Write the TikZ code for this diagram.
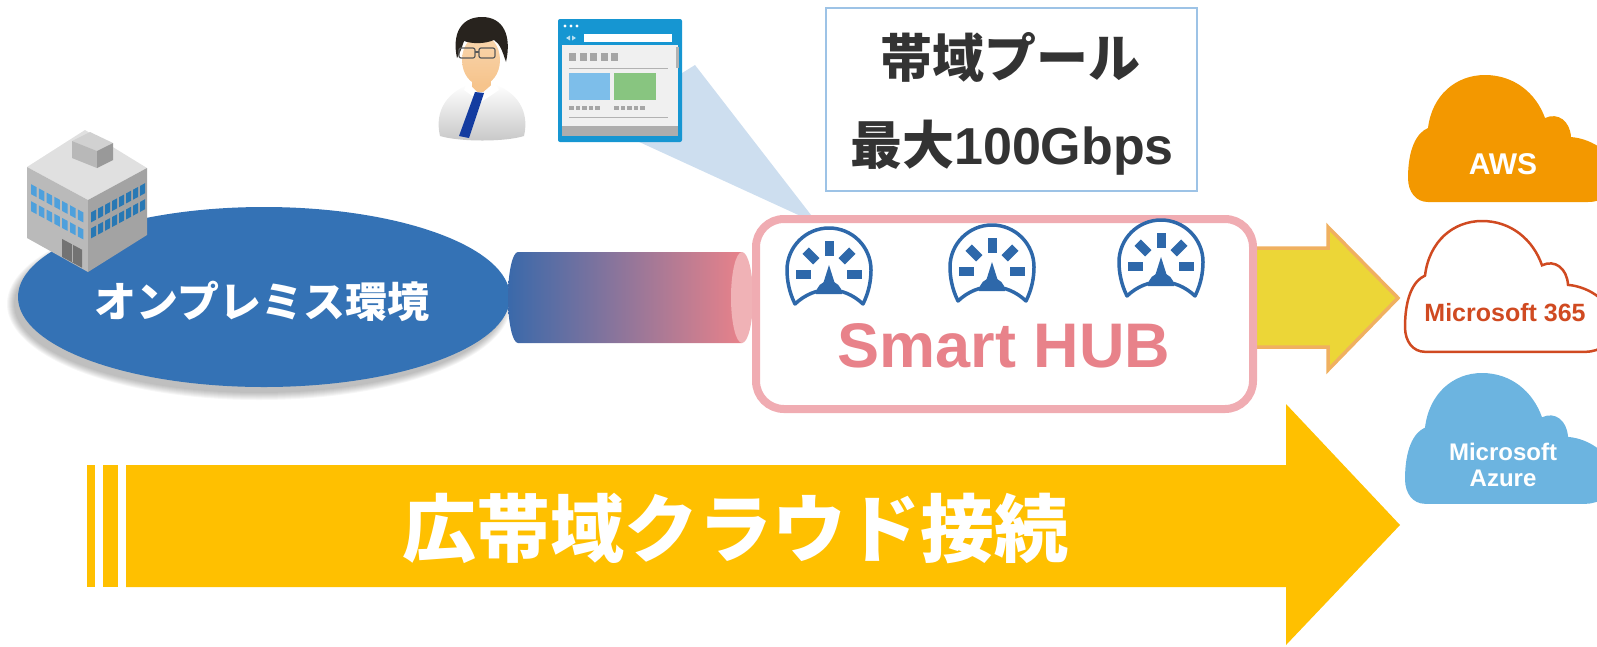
\documentclass[tikz,border=0pt]{standalone}
\usepackage{fontspec}
\setmainfont{Liberation Sans}
\newfontfamily\jpfont{Noto Sans CJK JP}
\usetikzlibrary{shapes.geometric,positioning}

\definecolor{premblue}{RGB}{52,114,181}
\definecolor{pipeblue}{RGB}{58,105,170}
\definecolor{pipepink}{RGB}{232,130,138}
\definecolor{pipecap}{RGB}{240,178,182}
\definecolor{hubpink}{RGB}{240,172,178}
\definecolor{hubtextpink}{RGB}{232,130,138}
\definecolor{gaugeblue}{RGB}{46,104,170}
\definecolor{arrowyellow}{RGB}{236,214,55}
\definecolor{arrowedge}{RGB}{240,176,96}
\definecolor{bandorange}{RGB}{255,192,0}
\definecolor{awsorange}{RGB}{243,152,0}
\definecolor{msred}{RGB}{208,74,33}
\definecolor{azureblue}{RGB}{108,180,224}
\definecolor{poolframe}{RGB}{157,195,230}
\definecolor{darktext}{RGB}{51,51,51}
\definecolor{callout}{RGB}{205,222,239}
\definecolor{browserblue}{RGB}{22,150,210}
\definecolor{pagegray}{RGB}{240,240,240}
\definecolor{pageblue}{RGB}{125,190,234}
\definecolor{pagegreen}{RGB}{136,197,128}
\definecolor{winlight}{RGB}{78,160,220}
\definecolor{windark}{RGB}{40,120,180}
\definecolor{skin}{RGB}{246,196,140}
\definecolor{hair}{RGB}{40,35,30}
\definecolor{tieblue}{RGB}{20,60,160}

\tikzset{
  % meter icon, drawn around its centre
  gauge/.pic={
    \fill[white] (-34,34) .. controls (-40,22) and (-42,10) .. (-42,0)
      arc[start angle=180, end angle=360, radius=42]
      .. controls (42,10) and (40,22) .. (34,34)
      .. controls (14,15) and (-14,15) .. cycle;
    \foreach \a in {0,45,...,180}
      \fill[gaugeblue, shift={(0,4)}, rotate=\a] (18,-4.5) rectangle (33,4.5);
    \fill[gaugeblue] (-6,14) -- (0,-5) -- (6,14) -- cycle;
    \fill[gaugeblue] (-13,24) arc[start angle=180, end angle=360, radius=13] -- cycle;
    \draw[gaugeblue, line width=3.5, line join=round] (-34,34) .. controls (-40,22) and (-42,10) .. (-42,0)
      arc[start angle=180, end angle=360, radius=42]
      .. controls (42,10) and (40,22) .. (34,34)
      .. controls (14,15) and (-14,15) .. cycle;
  },
  % cloud outline, top left corner at the origin
  skycloud/.pic={
    \path[pic actions] (20,127) .. controls (8,127) and (0,117) .. (0,103)
      .. controls (0,75) and (8,58) .. (20,53)
      .. controls (24,20) and (48,0) .. (77,0)
      .. controls (106,0) and (128,18) .. (137,43)
      .. controls (150,37) and (162,46) .. (163,62)
      .. controls (186,64) and (208,80) .. (208,100)
      .. controls (208,118) and (196,127) .. (180,127)
      -- cycle;
  }
}

\begin{document}
\begin{tikzpicture}[x=1pt,y=-1pt]
  \tikzstyle{premtext}=[text=white,inner sep=0pt,font=\jpfont\bfseries\fontsize{42}{46}\selectfont]
  \tikzstyle{bandtext}=[text=white,inner sep=0pt,font=\jpfont\bfseries\fontsize{74}{80}\selectfont]
  \tikzstyle{pooltext}=[text=darktext,inner sep=0pt,font=\bfseries\fontsize{52}{58}\selectfont]
  \tikzstyle{hubbox}=[rectangle,draw=hubpink,line width=8pt,fill=white,rounded corners=28pt,minimum width=497pt,minimum height=190pt]
  \tikzstyle{hubtext}=[text=hubtextpink,inner sep=0pt,font=\bfseries\fontsize{63}{70}\selectfont]
  \tikzstyle{cloudtext}=[text=white,inner sep=0pt,align=center,font=\bfseries\fontsize{24}{26}\selectfont]

  \useasboundingbox (0,0) rectangle (1597,646);
  \clip (0,0) rectangle (1597,646);

  % view cone from the browser down to the first meter
  \fill[callout] (695,65) -- (600,124) -- (818,224) -- cycle;

  % on-premises site
  \foreach \k in {1,...,8}
    \fill[black,opacity=0.035] (259,304) ellipse ({244+\k} and {88+\k});
  \node[ellipse,fill=premblue,minimum width=492pt,minimum height=180pt] (prem) at (264,297) {};
  \node[premtext] (premlabel) at (262,301) {オンプレミス環境};

  % office building
  \fill[black!12] (85,130) -- (27,167) -- (88,200) -- (147,168) -- cycle;
  \fill[black!27] (27,167) -- (88,200) -- (88,272) -- (27,238) -- cycle;
  \fill[black!36] (88,200) -- (147,168) -- (147,235) -- (88,272) -- cycle;
  \fill[black!18] (72,141) -- (90,132) -- (113,143) -- (97,151) -- cycle;
  \fill[black!28] (72,141) -- (97,151) -- (97,168) -- (72,158) -- cycle;
  \fill[black!40] (97,151) -- (113,143) -- (113,160) -- (97,168) -- cycle;
  \begin{scope}[shift={(27,167)},yslant=-0.54]
    \foreach \i in {0,...,6} {
      \fill[winlight] (4+\i*7.8,15) rectangle ++(5.5,10);
      \fill[winlight] (4+\i*7.8,32) rectangle ++(5.5,10);
    }
    \fill[black!55] (35,53) rectangle (55,71);
    \draw[black!30] (45,53) -- (45,71);
  \end{scope}
  \begin{scope}[shift={(88,200)},yslant=0.54]
    \foreach \i in {0,...,7} {
      \fill[windark] (3+\i*7,14) rectangle ++(5,10);
      \fill[windark] (3+\i*7,30) rectangle ++(5,10);
    }
  \end{scope}

  % pipe into the hub
  \shade[left color=pipeblue,right color=pipepink] (518,252) -- (742,252) -- (742,343) -- (518,343)
    arc[start angle=90, end angle=270, x radius=10, y radius=45.5] -- cycle;
  \fill[pipecap] (742,297.5) ellipse (11 and 45.5);

  % arrow out to the clouds
  \fill[arrowyellow,draw=arrowedge,line width=3.5pt,line join=miter]
    (1250,248) -- (1328,248) -- (1328,227) -- (1398,298) -- (1328,370) -- (1328,347) -- (1250,347) -- cycle;

  % hub with its meters
  \node[hubbox] (hub) at (1004.5,314) {};
  \pic (meter1) at (829,270) {gauge};
  \pic (meter2) at (992,267) {gauge};
  \pic (meter3) at (1161,262) {gauge};
  \node[hubtext] (hublabel) at (1004,346) {Smart HUB};

  % wide band arrow
  \fill[bandorange] (87,465) rectangle (95,587);
  \fill[bandorange] (103,465) rectangle (118,587);
  \fill[bandorange] (126,465) -- (1286,465) -- (1286,404) -- (1400,525) -- (1286,645) -- (1286,587) -- (126,587) -- cycle;
  \node[bandtext] (band) at (735,528) {広帯域クラウド接続};

  % clouds
  \pic[fill=awsorange] (awscloud) at (1408,75) {skycloud};
  \node[cloudtext,font=\bfseries\fontsize{30}{32}\selectfont] (aws) at (1503,164) {AWS};
  \pic[fill=white,draw=msred,line width=2.5pt,yscale=1.03] (mscloud) at (1405,221) {skycloud};
  \node[cloudtext,text=msred,font=\bfseries\fontsize{25}{28}\selectfont] (ms365) at (1505,313) {Microsoft 365};
  \pic[fill=azureblue,yscale=1.03] (azcloud) at (1405,373) {skycloud};
  \node[cloudtext] (azure) at (1503,465) {Microsoft\\Azure};

  % user
  \shade[top color=white,bottom color=black!22] (440,136) .. controls (434,110) and (448,92) .. (470,84)
    -- (494,84) .. controls (516,92) and (530,110) .. (524,136) .. controls (505,142) and (460,142) .. cycle;
  \fill[skin] (472,74) rectangle (491,92);
  \shade[top color=skin!70!white,bottom color=skin] (481,60) ellipse (19 and 25);
  \fill[hair] (457,58) .. controls (452,35) and (460,17) .. (482,17) .. controls (503,17) and (512,35) .. (506,62)
    .. controls (502,50) and (500,44) .. (494,40) .. controls (485,44) and (472,44) .. (464,41)
    .. controls (462,47) and (460,53) .. cycle;
  \draw[black!65,line width=1.2pt,rounded corners=2pt] (459,48) rectangle (475,58) (479,48) rectangle (495,58);
  \draw[black!65,line width=1.2pt] (475,52) -- (479,52);
  \fill[white] (467,82) -- (480,95) -- (495,82) -- (499,90) -- (481,102) -- (464,90) -- cycle;
  \fill[tieblue] (475,92) -- (484,93) -- (469,138) -- (459,136) -- cycle;

  % browser window
  \fill[browserblue,rounded corners=2pt] (558,19) rectangle (682,142);
  \foreach \i in {0,1,2}
    \fill[white] (565+\i*6,26) circle (1.6);
  \fill[white] (584,34) rectangle (672,42);
  \fill[white!70!browserblue] (566,38) -- (570,35.5) -- (570,40.5) -- cycle;
  \fill[white!70!browserblue] (576,38) -- (572,35.5) -- (572,40.5) -- cycle;
  \fill[pagegray] (562,45) rectangle (678,126);
  \fill[black!32] (562,126) rectangle (678,136);
  \foreach \i in {0,...,4}
    \fill[black!35] (569+\i*10.5,53) rectangle ++(7,8);
  \draw[black!30,line width=1pt] (569,68) -- (668,68);
  \fill[black!30] (676,47) rectangle (679,68);
  \fill[pageblue] (569,73) rectangle (610,100);
  \fill[pagegreen] (614,73) rectangle (656,100);
  \foreach \i in {0,...,4} {
    \fill[black!35] (569+\i*6.5,106) rectangle ++(4.5,4);
    \fill[black!35] (614+\i*6.5,106) rectangle ++(4.5,4);
  }
  \draw[black!30,line width=1pt] (569,117) -- (668,117);

  % bandwidth pool label
  \node[rectangle,draw=poolframe,line width=1.5pt,fill=white,minimum width=371pt,minimum height=183pt] (poolbox) at (1011.5,99.5) {};
  \node[pooltext] (pool) at (1010,57) {\jpfont\fontsize{52}{58}\selectfont 帯域プール};
  \node[pooltext] (maxbw) at (1012,148) {{\jpfont\fontsize{52}{58}\selectfont 最大}100Gbps};
\end{tikzpicture}
\end{document}
